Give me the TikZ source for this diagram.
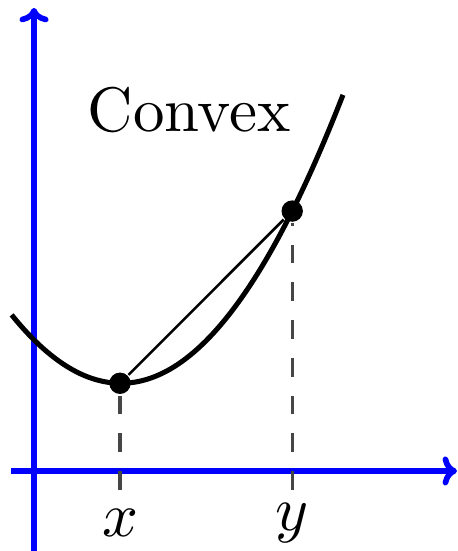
\documentclass[tikz,border=0pt]{standalone}
\definecolor{axiscolor}{RGB}{0,0,255}
\definecolor{guidecolor}{RGB}{70,70,70}
\usepackage{amsmath, amssymb}
\usepackage{tikz}
\usetikzlibrary{arrows.meta, calc}

\begin{document}
\begin{tikzpicture}[
    axisline/.style={draw=axiscolor, line width=0.9pt, -{To[width=4.6pt, length=2.3pt]}},
    dotnode/.style={circle, fill=black, inner sep=0pt, minimum size=3.4pt},
    guideline/.style={draw=guidecolor, line width=0.5pt, dashed}]
  \useasboundingbox (-0.19,-0.447) rectangle (2.363,2.631);

  % Axes
  \draw[axisline] (-0.128,0) -- (2.363,0);
  \draw[axisline] (0,-0.447) -- (0,2.587);

  % Convex function
  \draw[thick] (-0.125,0.872) .. controls (0.575,0.004) and (1.18,0.70) .. (1.726,2.101)
    coordinate[pos=0.30] (PX) coordinate[pos=0.83] (PY);
  \node[font=\normalsize] (CONVEX) at (0.866, 2.014) {Convex};

  % Points and chord
  \node[dotnode] (DX) at (PX) {};
  \node[dotnode] (DY) at (PY) {};
  \draw (DX) -- (DY);

  % Guides down to the axis
  \coordinate (XB) at (PX |- 0,-0.106);
  \coordinate (YB) at (PY |- 0,-0.106);
  \draw[guideline] (XB) -- (DX);
  \draw[guideline] (YB) -- (DY);
  \node (XL) at (PX |- 0,-0.293) {$x$};
  \node (YL) at (PY |- 0,-0.293) {$y$};
\end{tikzpicture}
\end{document}
